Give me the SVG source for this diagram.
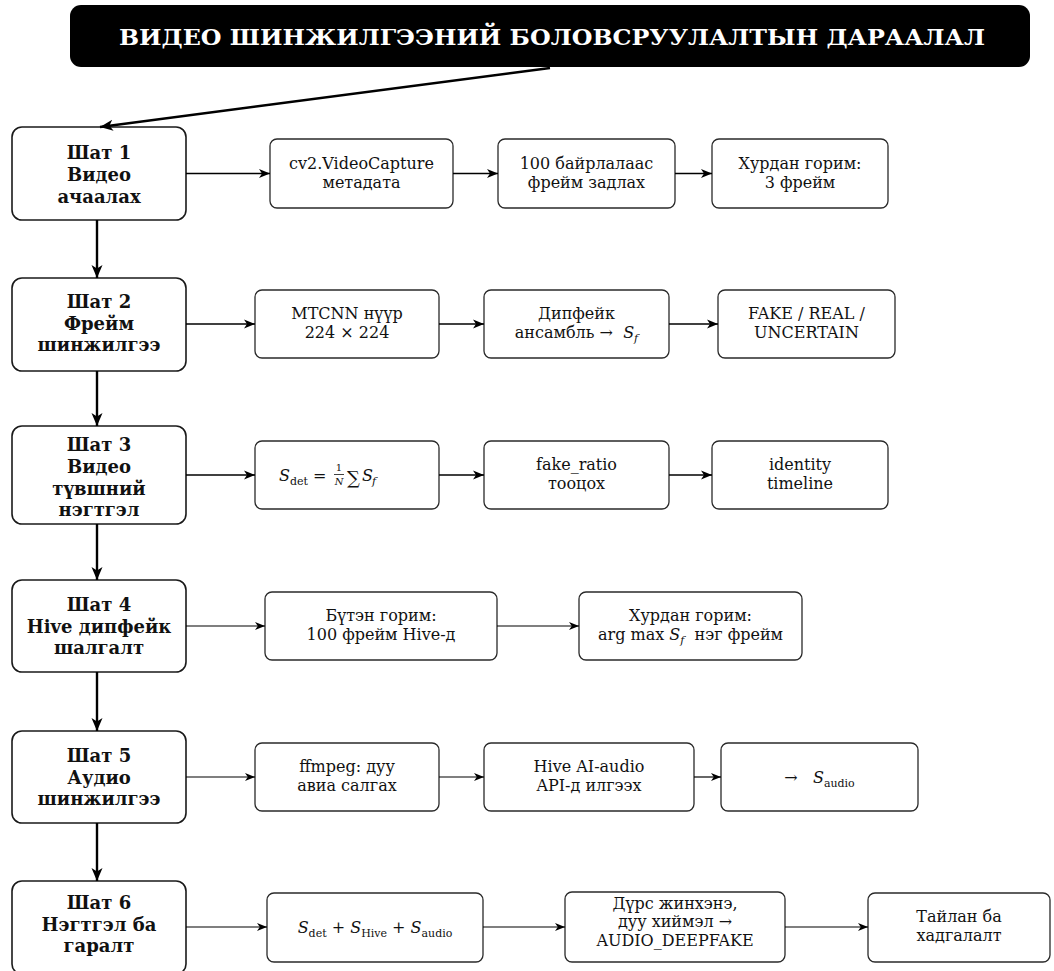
<svg xmlns="http://www.w3.org/2000/svg" width="1054" height="971" viewBox="0 0 1054 971">
  <style>
    .step rect { fill: #fff; stroke: #1a1a1a; stroke-width: 1.6; }
    .box rect { fill: #fff; stroke: #2a2a2a; stroke-width: 1.3; }
    .step text { font-family: "DejaVu Serif", serif; font-weight: bold; font-size: 18px; text-anchor: middle; fill: #111; }
    .box text { font-family: "DejaVu Serif", serif; font-size: 16px; text-anchor: middle; fill: #111; }
    .box text.st { text-anchor: start; }
    .it { font-style: italic; }
    .box .sub { font-size: 11px; }
    .box text.frac { font-size: 10px; }
    .box text.big { font-size: 18px; }
    .title-text { font-family: "DejaVu Serif", serif; font-weight: bold; font-size: 23px; fill: #fff; text-anchor: middle; }
    .thick { stroke: #000; stroke-width: 2.4; fill: none; marker-end: url(#headBig); }
    .mid { stroke: #000; stroke-width: 1.7; fill: none; marker-end: url(#headMid); }
    .thin { stroke: #000; stroke-width: 1.2; fill: none; marker-end: url(#headSmall); }
  </style>
  <defs>
    <marker id="headBig" markerUnits="userSpaceOnUse" markerWidth="14" markerHeight="12" refX="13" refY="6" orient="auto">
      <path d="M0,0.5 L13,6 L0,11.5 L3.5,6 Z" fill="#000"/>
    </marker>
    <marker id="headMid" markerUnits="userSpaceOnUse" markerWidth="12" markerHeight="10" refX="11" refY="5" orient="auto">
      <path d="M0,0.5 L11,5 L0,9.5 L3,5 Z" fill="#000"/>
    </marker>
    <marker id="headSmall" markerUnits="userSpaceOnUse" markerWidth="11" markerHeight="9" refX="10" refY="4.5" orient="auto">
      <path d="M0,0.5 L10,4.5 L0,8.5 L2.8,4.5 Z" fill="#000"/>
    </marker>
  </defs>

  <rect width="1054" height="971" fill="#fff"/>

  <!-- Title banner -->
  <g id="title">
    <rect x="70" y="5" width="960" height="62" rx="11" fill="#000"/>
    <text class="title-text" x="552" y="45" textLength="866" lengthAdjust="spacingAndGlyphs">ВИДЕО ШИНЖИЛГЭЭНИЙ БОЛОВСРУУЛАЛТЫН ДАРААЛАЛ</text>
  </g>

  <!-- Pipeline steps (left column) -->
  <g id="step1" class="step">
    <rect x="12" y="127" width="174" height="93" rx="10"/>
    <text x="99" y="159">Шат 1</text>
    <text x="99" y="181">Видео</text>
    <text x="99" y="203">ачаалах</text>
  </g>
  <g id="step2" class="step">
    <rect x="12" y="278" width="174" height="93" rx="10"/>
    <text x="99" y="308">Шат 2</text>
    <text x="99" y="330">Фрейм</text>
    <text x="99" y="351">шинжилгээ</text>
  </g>
  <g id="step3" class="step">
    <rect x="12" y="426" width="174" height="98" rx="10"/>
    <text x="99" y="451">Шат 3</text>
    <text x="99" y="473">Видео</text>
    <text x="99" y="495">түвшний</text>
    <text x="99" y="516">нэгтгэл</text>
  </g>
  <g id="step4" class="step">
    <rect x="12" y="580" width="174" height="92" rx="10"/>
    <text x="99" y="611">Шат 4</text>
    <text x="99" y="633">Hive дипфейк</text>
    <text x="99" y="654">шалгалт</text>
  </g>
  <g id="step5" class="step">
    <rect x="12" y="731" width="174" height="92" rx="10"/>
    <text x="99" y="762">Шат 5</text>
    <text x="99" y="784">Аудио</text>
    <text x="99" y="805">шинжилгээ</text>
  </g>
  <g id="step6" class="step">
    <rect x="12" y="881" width="174" height="93" rx="10"/>
    <text x="99" y="909">Шат 6</text>
    <text x="99" y="931">Нэгтгэл ба</text>
    <text x="99" y="952">гаралт</text>
  </g>

  <!-- Row 1 -->
  <g id="r1a" class="box">
    <rect x="270" y="139" width="183" height="69" rx="7"/>
    <text x="361.5" y="169">cv2.VideoCapture</text>
    <text x="361.5" y="188">метадата</text>
  </g>
  <g id="r1b" class="box">
    <rect x="498" y="139" width="177" height="69" rx="7"/>
    <text x="586.5" y="169">100 байрлалаас</text>
    <text x="586.5" y="188">фрейм задлах</text>
  </g>
  <g id="r1c" class="box">
    <rect x="712" y="139" width="176" height="69" rx="7"/>
    <text x="800" y="169">Хурдан горим:</text>
    <text x="800" y="188">3 фрейм</text>
  </g>

  <!-- Row 2 -->
  <g id="r2a" class="box">
    <rect x="255" y="290" width="184" height="68" rx="7"/>
    <text x="347" y="319">MTCNN нүүр</text>
    <text x="347" y="338">224 × 224</text>
  </g>
  <g id="r2b" class="box">
    <rect x="484" y="290" width="185" height="68" rx="7"/>
    <text x="576.5" y="319">Дипфейк</text>
    <text x="576.5" y="338">ансамбль →&#160;&#160;<tspan class="it">S</tspan><tspan class="sub it" dy="4">f</tspan></text>
  </g>
  <g id="r2c" class="box">
    <rect x="718" y="290" width="177" height="68" rx="7"/>
    <text x="806.5" y="319">FAKE / REAL /</text>
    <text x="806.5" y="338">UNCERTAIN</text>
  </g>

  <!-- Row 3 -->
  <g id="r3a" class="box">
    <rect x="255" y="441" width="184" height="68" rx="7"/>
    <text class="st it" x="279" y="481">S</text>
    <text class="st sub" x="290" y="485">det</text>
    <text class="st" x="313" y="481">=</text>
    <text class="frac" x="339" y="471">1</text>
    <line x1="334" y1="474.5" x2="344" y2="474.5" stroke="#111" stroke-width="0.8"/>
    <text class="frac it" x="339" y="485">N</text>
    <text class="st big" x="347" y="484">∑</text>
    <text class="st it" x="362" y="481">S</text>
    <text class="st sub it" x="372" y="485">f</text>
  </g>
  <g id="r3b" class="box">
    <rect x="484" y="441" width="185" height="68" rx="7"/>
    <text x="576.5" y="470">fake_ratio</text>
    <text x="576.5" y="489">тооцох</text>
  </g>
  <g id="r3c" class="box">
    <rect x="712" y="441" width="176" height="68" rx="7"/>
    <text x="800" y="470">identity</text>
    <text x="800" y="489">timeline</text>
  </g>

  <!-- Row 4 -->
  <g id="r4a" class="box">
    <rect x="265" y="592" width="232" height="68" rx="7"/>
    <text x="381" y="621">Бүтэн горим:</text>
    <text x="381" y="640">100 фрейм Hive-д</text>
  </g>
  <g id="r4b" class="box">
    <rect x="579" y="592" width="223" height="68" rx="7"/>
    <text x="690.5" y="621">Хурдан горим:</text>
    <text x="690.5" y="640">arg max <tspan class="it">S</tspan><tspan class="sub it" dy="4">f</tspan><tspan dy="-4">&#160;&#160;нэг фрейм</tspan></text>
  </g>

  <!-- Row 5 -->
  <g id="r5a" class="box">
    <rect x="255" y="743" width="184" height="68" rx="7"/>
    <text x="347" y="772">ffmpeg: дуу</text>
    <text x="347" y="791">авиа салгах</text>
  </g>
  <g id="r5b" class="box">
    <rect x="484" y="743" width="210" height="68" rx="7"/>
    <text x="589" y="772">Hive AI-audio</text>
    <text x="589" y="791">API-д илгээх</text>
  </g>
  <g id="r5c" class="box">
    <rect x="721" y="743" width="197" height="68" rx="7"/>
    <text x="819.5" y="783">→&#160;&#160;&#160;<tspan class="it">S</tspan><tspan class="sub" dy="4">audio</tspan></text>
  </g>

  <!-- Row 6 -->
  <g id="r6a" class="box">
    <rect x="267" y="893" width="216" height="69" rx="7"/>
    <text x="375" y="933"><tspan class="it">S</tspan><tspan class="sub" dy="4">det</tspan><tspan dy="-4"> + </tspan><tspan class="it">S</tspan><tspan class="sub" dy="4">Hive</tspan><tspan dy="-4"> + </tspan><tspan class="it">S</tspan><tspan class="sub" dy="4">audio</tspan></text>
  </g>
  <g id="r6b" class="box">
    <rect x="565" y="892" width="220" height="70" rx="7"/>
    <text x="675" y="909">Дүрс жинхэнэ,</text>
    <text x="675" y="927">дуу хиймэл →</text>
    <text x="675" y="946">AUDIO_DEEPFAKE</text>
  </g>
  <g id="r6c" class="box">
    <rect x="868" y="893" width="182" height="69" rx="7"/>
    <text x="959" y="922">Тайлан ба</text>
    <text x="959" y="941">хадгалалт</text>
  </g>

  <!-- Connectors -->
  <g id="connectors">
    <line class="thick" x1="550" y1="68" x2="100" y2="127"/>
    <line class="thick" x1="97" y1="220" x2="97" y2="278"/>
    <line class="thick" x1="97" y1="371" x2="97" y2="426"/>
    <line class="thick" x1="97" y1="524" x2="97" y2="580"/>
    <line class="thick" x1="97" y1="672" x2="97" y2="731"/>
    <line class="thick" x1="97" y1="823" x2="97" y2="881"/>

    <line class="mid" x1="186" y1="173.5" x2="270" y2="173.5"/>
    <line class="mid" x1="453" y1="173.5" x2="498" y2="173.5"/>
    <line class="mid" x1="675" y1="173.5" x2="712" y2="173.5"/>

    <line class="mid" x1="186" y1="324" x2="255" y2="324"/>
    <line class="mid" x1="439" y1="324" x2="484" y2="324"/>
    <line class="mid" x1="669" y1="324" x2="718" y2="324"/>

    <line class="mid" x1="186" y1="475" x2="255" y2="475"/>
    <line class="mid" x1="439" y1="475" x2="484" y2="475"/>
    <line class="mid" x1="669" y1="475" x2="712" y2="475"/>

    <line class="thin" x1="186" y1="626" x2="265" y2="626"/>
    <line class="thin" x1="497" y1="626" x2="579" y2="626"/>

    <line class="thin" x1="186" y1="777" x2="255" y2="777"/>
    <line class="thin" x1="439" y1="777" x2="484" y2="777"/>
    <line class="thin" x1="694" y1="777" x2="721" y2="777"/>

    <line class="thin" x1="186" y1="927" x2="267" y2="927"/>
    <line class="thin" x1="483" y1="927" x2="565" y2="927"/>
    <line class="thin" x1="785" y1="927" x2="868" y2="927"/>
  </g>
</svg>
